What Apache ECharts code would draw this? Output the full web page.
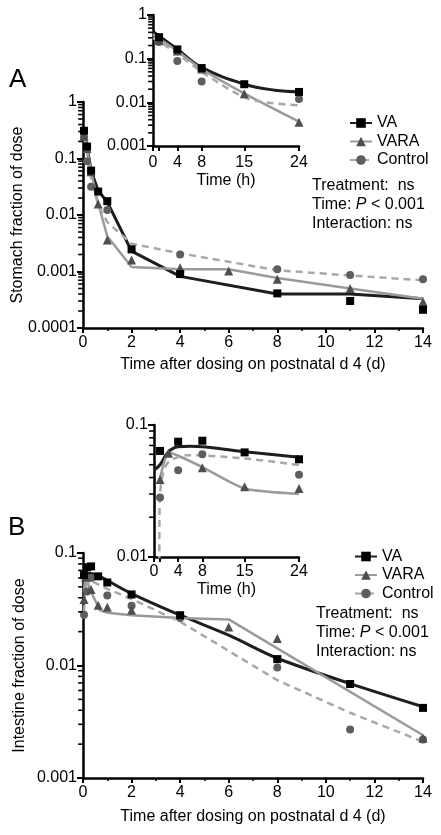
<!DOCTYPE html>
<html><head><meta charset="utf-8">
<script src="https://cdn.jsdelivr.net/npm/echarts@6/dist/echarts.min.js"></script>
<style>html,body{margin:0;padding:0;background:#fff}#c{width:441px;height:835px}</style>
</head><body><div id="c"></div>
<script>
// ---------------- DATA ----------------
const seriesNames = ['VA', 'VARA', 'Control'];
const mainTicksX = [0, 2, 4, 6, 8, 10, 12, 14];
const insetTicksX = [0, 1, 4, 8, 15, 24];
const insetLabelsX = [0, 4, 8, 15, 24];
const stomachTicksY = ['1', '0.1', '0.01', '0.001', '0.0001'];
const stomachInsetTicksY = ['1', '0.1', '0.01', '0.001'];
const intestineTicksY = ['0.1', '0.01', '0.001'];
const intestineInsetTicksY = ['0.1', '0.01'];

// Panel A (stomach) – inset, hours
const insetHoursA = [1, 4, 8, 15, 24];
const stomachInsetVA = [0.31, 0.163, 0.061, 0.026, 0.0173];
const stomachInsetVARA = [0.26, 0.15, 0.058, 0.0158, 0.0035];
const stomachInsetControl = [0.24, 0.089, 0.030, null, 0.012];
const stomachInsetFitVA = [[0, 0.42], [1, 0.33], [4, 0.165], [8, 0.063], [15, 0.026], [20, 0.019], [24, 0.0175]];
const stomachInsetFitVARA = [[0, 0.36], [1, 0.29], [4, 0.15], [8, 0.058], [15, 0.016], [24, 0.0036]];
const stomachInsetFitControl = [[0, 0.3], [1, 0.25], [4, 0.13], [8, 0.05], [15, 0.013], [19, 0.0098], [24, 0.0085]];

// Panel A (stomach) – main, days
const mainDaysA = [0.042, 0.167, 0.333, 0.625, 1, 2, 4, 6, 8, 11, 14];
const stomachVA = [0.31, 0.163, 0.061, 0.026, 0.0176, 0.00247, 0.0009, null, 0.00041, 0.0003, 0.00021];
const stomachVARA = [0.25, 0.15, 0.058, 0.0156, 0.0036, 0.0016, 0.00117, 0.00102, 0.00073, 0.0005, 0.00029];
const stomachControl = [0.24, 0.089, 0.0316, null, 0.0122, null, 0.002, null, 0.0011, 0.00087, 0.00073];
const stomachFitVA = [[0.042, 0.31], [0.167, 0.163], [0.333, 0.061], [0.625, 0.027], [1, 0.017], [2, 0.0023], [4, 0.00082], [8, 0.0004], [11, 0.0004], [14, 0.00033]];
const stomachFitVARA = [[0.042, 0.26], [0.167, 0.15], [0.333, 0.058], [0.625, 0.016], [1, 0.0042], [2, 0.0012], [4, 0.0011], [6, 0.0011], [8, 0.00077], [11, 0.0005], [14, 0.00033]];
const stomachFitControl = [[0.042, 0.24], [0.167, 0.12], [0.333, 0.045], [0.625, 0.015], [1, 0.0075], [2, 0.0031], [4, 0.0021], [8, 0.00105], [11, 0.00085], [14, 0.0007]];

// Panel B (intestine) – inset, hours
const insetHoursB = [1, 2.4, 4, 8, 15, 24];
const intestineInsetVA = [0.0636, null, 0.0747, 0.076, 0.062, 0.055];
const intestineInsetVARA = [0.0386, 0.061, null, 0.0474, 0.034, 0.033];
const intestineInsetControl = [0.0282, null, 0.0455, 0.060, null, 0.042];
const intestineInsetFitVA = [[0, 0.0455], [1, 0.05], [2.4, 0.0627], [4, 0.0684], [6, 0.069], [15, 0.0627], [24, 0.057]];
const intestineInsetFitVARA = [[0.8, 0.036], [2.4, 0.062], [4, 0.0585], [8, 0.048], [15, 0.033], [24, 0.03]];
const intestineInsetFitControl = [[0.88, 0.009], [0.95, 0.027], [1.5, 0.043], [2.5, 0.053], [5.6, 0.059], [15, 0.0558], [24, 0.0497]];

// Panel B (intestine) – main, days
const mainDaysB = [0.042, 0.1, 0.167, 0.333, 0.625, 1, 2, 4, 6, 8, 11, 14];
const intestineVA = [0.0636, null, 0.0747, 0.076, 0.062, 0.0547, 0.0428, 0.028, null, 0.0114, 0.00685, 0.0042];
const intestineVARA = [0.0386, 0.061, null, 0.0474, 0.0344, 0.033, 0.031, null, 0.022, 0.0174, null, 0.00226];
const intestineControl = [0.0282, null, 0.0455, 0.060, null, 0.042, 0.034, 0.0265, null, 0.0096, 0.0027, 0.0022];
const intestineFitVA = [[0.042, 0.05], [0.1, 0.06], [0.2, 0.066], [0.625, 0.063], [1, 0.057], [2, 0.0436], [4, 0.028], [6, 0.0186], [8, 0.0116], [11, 0.0069], [14, 0.0043]];
const intestineFitVARA = [[0.042, 0.045], [0.1, 0.062], [0.333, 0.045], [0.7, 0.031], [1, 0.0295], [2, 0.028], [4, 0.0265], [6, 0.0257], [14, 0.0024]];
const intestineFitControl = [[0.042, 0.03], [0.1, 0.05], [0.3, 0.057], [1, 0.048], [2, 0.039], [4, 0.0245], [8, 0.0074], [11, 0.0038], [14, 0.0021]];

// ---------------- STYLE ----------------
const FONT = 'Liberation Sans, Arial, Helvetica, sans-serif';
const sty = {
  VA: { line: '#1e1e1e', mark: '#000000', symbol: 'rect', size: 8, width: 3, type: 'solid' },
  VARA: { line: '#9a9a9a', mark: '#4e4e4e', symbol: 'triangle', size: 9, width: 2.5, type: 'solid' },
  Control: { line: '#a8a8a8', mark: '#5e5e5e', symbol: 'circle', size: 8, width: 2.5, type: [7, 5] }
};

function pts(xs, ys) { return xs.map((x, i) => ys[i] == null ? null : [x, ys[i]]).filter(Boolean); }
function minorLog(min, max) {
  const out = [];
  for (let e = Math.round(Math.log10(min)); e < Math.round(Math.log10(max)); e++) {
    for (let m = 2; m <= 9; m++) out.push(+(m * Math.pow(10, e)).toPrecision(3));
  }
  return out;
}
const axisLineStyle = { color: '#000', width: 2.5 };
const labelStyle = { color: '#000', fontSize: 16, fontFamily: FONT };

function grid(l, t, w, h) { return { left: l, top: t, width: w, height: h, containLabel: false, outerBoundsMode: 'none' }; }
function xAxisMain(gi, name, gap) {
  return {
    type: 'value', gridIndex: gi, min: 0, max: 14, interval: 2,
    name: name, nameLocation: 'middle', nameGap: gap, nameMoveOverlap: false,
    nameTextStyle: { color: '#000', fontSize: 16, fontFamily: FONT },
    axisLine: { lineStyle: axisLineStyle },
    axisTick: { show: true, length: 5, lineStyle: { color: '#000', width: 2 } },
    minorTick: { show: true, splitNumber: 2, length: 3, lineStyle: { color: '#000', width: 1.5 } },
    axisLabel: Object.assign({ margin: 7, customValues: mainTicksX }, labelStyle),
    splitLine: { show: false }, minorSplitLine: { show: false }
  };
}
function xAxisInset(gi, margin, gap) {
  return {
    type: 'value', gridIndex: gi, min: 0, max: 24,
    name: 'Time (h)', nameLocation: 'middle', nameGap: gap, nameMoveOverlap: false,
    nameTextStyle: { color: '#000', fontSize: 16, fontFamily: FONT },
    axisLine: { lineStyle: axisLineStyle },
    axisTick: { show: true, length: 5, customValues: insetTicksX, lineStyle: { color: '#000', width: 2 } },
    axisLabel: Object.assign({ margin: margin, customValues: insetLabelsX }, labelStyle),
    splitLine: { show: false }
  };
}
function yAxisLog(gi, labels, name, gap) {
  const vals = labels.map(Number);
  return {
    type: 'log', logBase: 10, gridIndex: gi, min: Math.min.apply(null, vals), max: Math.max.apply(null, vals),
    name: name || '', nameLocation: 'middle', nameGap: gap || 0, nameMoveOverlap: false,
    nameTextStyle: { color: '#000', fontSize: 16, fontFamily: FONT },
    axisLine: { show: true, lineStyle: axisLineStyle },
    axisTick: { show: true, length: 6, lineStyle: { color: '#000', width: 2 } },
    axisLabel: Object.assign({ margin: 6, formatter: v => String(+(+v).toPrecision(3)) }, labelStyle),
    splitLine: { show: false }
  };
}
// log-spaced minor ticks on the y axes, placed through the axis scales
function minorTickSeries(gi, labels) {
  const vals = labels.map(Number);
  const mn = minorLog(Math.min.apply(null, vals), Math.max.apply(null, vals));
  return {
    type: 'scatter', xAxisIndex: gi, yAxisIndex: gi, silent: true, clip: false, z: 10,
    data: mn.map(v => [0, v]),
    symbol: 'rect', symbolSize: [4.5, 1.6], symbolOffset: [-2.6, 0],
    itemStyle: { color: '#000', opacity: 1 }
  };
}
function fitSeries(gi, name, data, smooth) {
  const s = sty[name];
  return {
    type: 'line', name: name, xAxisIndex: gi, yAxisIndex: gi, data: data,
    showSymbol: false, symbol: s.symbol, symbolSize: s.size, smooth: smooth,
    lineStyle: { color: s.line, width: s.width, type: s.type },
    itemStyle: { color: s.mark }, z: 2, silent: true
  };
}
function pointSeries(gi, name, data) {
  const s = sty[name];
  return {
    type: 'scatter', name: name, xAxisIndex: gi, yAxisIndex: gi, data: data,
    symbol: s.symbol, symbolSize: s.size, itemStyle: { color: s.mark, opacity: 1 }, z: 3, silent: true
  };
}
function legend(l, t) {
  return {
    data: seriesNames, orient: 'vertical', left: l, top: t, itemWidth: 22, itemHeight: 12, itemGap: 2.5,
    selectedMode: false, textStyle: { color: '#000', fontSize: 16, fontFamily: FONT }
  };
}
function statText(x, y, lines) {
  return lines.map((t, i) => ({
    type: 'text', x: x, y: y + i * 19, silent: true,
    style: { text: t, font: '16px ' + FONT, fill: '#000', verticalAlign: 'middle', rich: { i: { fontStyle: 'italic', fontSize: 16, fontFamily: FONT } } }
  }));
}
const statLines = ['Treatment:  ns', 'Time: {i|P} < 0.001', 'Interaction: ns'];

const option = {
  animation: false,
  backgroundColor: '#fff',
  grid: [grid(83, 102, 340, 226), grid(153, 15, 146, 131), grid(83, 553, 340, 225), grid(154, 425, 145, 132)],
  xAxis: [
    xAxisMain(0, 'Time after dosing on postnatal d 4 (d)', 29),
    xAxisInset(1, 9, 27),
    xAxisMain(2, 'Time after dosing on postnatal d 4 (d)', 30.5),
    xAxisInset(3, 7, 25)
  ],
  yAxis: [
    yAxisLog(0, stomachTicksY, 'Stomach fraction of dose', 57),
    yAxisLog(1, stomachInsetTicksY),
    yAxisLog(2, intestineTicksY, 'Intestine fraction of dose', 55),
    yAxisLog(3, intestineInsetTicksY)
  ],
  legend: [legend(344, 110), legend(349, 543.5)],
  graphic: [
    { type: 'text', x: 9, y: 80, silent: true, style: { text: 'A', font: '26px ' + FONT, fill: '#000', verticalAlign: 'middle' } },
    { type: 'text', x: 8, y: 527.5, silent: true, style: { text: 'B', font: '26px ' + FONT, fill: '#000', verticalAlign: 'middle' } }
  ].concat(statText(312, 186, statLines), statText(316, 613.5, statLines)),
  series: [
    fitSeries(0, 'VA', stomachFitVA, false),
    fitSeries(0, 'VARA', stomachFitVARA, false),
    fitSeries(0, 'Control', stomachFitControl, false),
    fitSeries(1, 'VA', stomachInsetFitVA, 0.4),
    fitSeries(1, 'VARA', stomachInsetFitVARA, 0.3),
    fitSeries(1, 'Control', stomachInsetFitControl, 0.3),
    fitSeries(2, 'VA', intestineFitVA, 0.3),
    fitSeries(2, 'VARA', intestineFitVARA, false),
    fitSeries(2, 'Control', intestineFitControl, false),
    fitSeries(3, 'VA', intestineInsetFitVA, 0.4),
    fitSeries(3, 'VARA', intestineInsetFitVARA, 0.2),
    fitSeries(3, 'Control', intestineInsetFitControl, 0.3),
    pointSeries(0, 'Control', pts(mainDaysA, stomachControl)),
    pointSeries(0, 'VARA', pts(mainDaysA, stomachVARA)),
    pointSeries(0, 'VA', pts(mainDaysA, stomachVA)),
    pointSeries(1, 'Control', pts(insetHoursA, stomachInsetControl)),
    pointSeries(1, 'VARA', pts(insetHoursA, stomachInsetVARA)),
    pointSeries(1, 'VA', pts(insetHoursA, stomachInsetVA)),
    pointSeries(2, 'Control', pts(mainDaysB, intestineControl)),
    pointSeries(2, 'VARA', pts(mainDaysB, intestineVARA)),
    pointSeries(2, 'VA', pts(mainDaysB, intestineVA)),
    pointSeries(3, 'Control', pts(insetHoursB, intestineInsetControl)),
    pointSeries(3, 'VARA', pts(insetHoursB, intestineInsetVARA)),
    pointSeries(3, 'VA', pts(insetHoursB, intestineInsetVA)),
    minorTickSeries(0, stomachTicksY),
    minorTickSeries(1, stomachInsetTicksY),
    minorTickSeries(2, intestineTicksY),
    minorTickSeries(3, intestineInsetTicksY)
  ]
};
const chart = echarts.init(document.getElementById('c'), null, { renderer: 'canvas' });
chart.setOption(option);
</script></body></html>
